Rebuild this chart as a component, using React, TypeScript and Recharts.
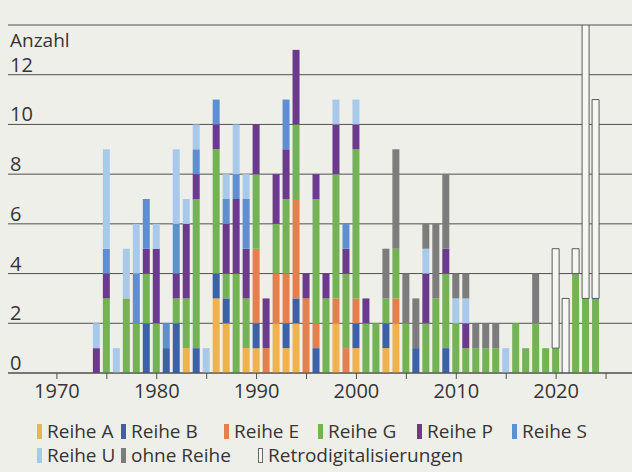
import React from 'react';
import { BarChart, Bar, XAxis, YAxis, CartesianGrid } from 'recharts';

const years = [
  1974, 1975, 1976, 1977, 1978, 1979,
  1980, 1981, 1982, 1983, 1984, 1985, 1986, 1987, 1988, 1989,
  1990, 1991, 1992, 1993, 1994, 1995, 1996, 1997, 1998, 1999,
  2000, 2001, 2002, 2003, 2004, 2005, 2006, 2007, 2008, 2009,
  2010, 2011, 2012, 2013, 2014, 2015, 2016, 2017, 2018, 2019,
  2020, 2021, 2022, 2023, 2024,
];

const reiheA = [
  0, 0, 0, 0, 0, 0,
  0, 0, 0, 1, 0, 0, 3, 2, 0, 1,
  1, 0, 2, 1, 2, 0, 0, 0, 2, 0,
  1, 0, 0, 1, 2, 0, 0, 0, 0, 0,
  0, 0, 0, 0, 0, 0, 0, 0, 0, 0,
  0, 0, 0, 0, 0,
];
const reiheB = [
  0, 0, 0, 0, 0, 2,
  0, 1, 2, 0, 1, 0, 1, 1, 0, 0,
  1, 0, 0, 1, 1, 0, 1, 0, 0, 0,
  1, 0, 0, 1, 0, 0, 1, 0, 0, 1,
  0, 0, 0, 0, 0, 0, 0, 0, 0, 0,
  0, 0, 0, 0, 0,
];
const reiheE = [
  0, 0, 0, 0, 0, 0,
  0, 0, 0, 0, 0, 0, 0, 0, 0, 0,
  3, 1, 2, 2, 4, 3, 1, 0, 1, 1,
  1, 0, 0, 0, 1, 0, 0, 0, 0, 0,
  0, 0, 0, 0, 0, 0, 0, 0, 0, 0,
  0, 0, 0, 0, 0,
];
const reiheG = [
  0, 3, 0, 3, 2, 2,
  2, 0, 1, 2, 6, 0, 5, 1, 4, 2,
  3, 0, 2, 3, 3, 0, 5, 3, 5, 3,
  6, 2, 2, 1, 2, 2, 0, 2, 3, 3,
  2, 1, 1, 1, 1, 0, 2, 1, 2, 1,
  1, 0, 4, 3, 3,
];
const reiheP = [
  1, 1, 0, 0, 0, 1,
  3, 0, 1, 3, 1, 0, 1, 2, 3, 2,
  2, 2, 2, 2, 3, 1, 1, 1, 2, 1,
  1, 1, 0, 0, 0, 0, 0, 2, 0, 1,
  0, 1, 0, 0, 0, 0, 0, 0, 0, 0,
  0, 0, 0, 0, 0,
];
const reiheS = [
  0, 1, 0, 0, 2, 2,
  0, 1, 2, 0, 1, 0, 1, 1, 1, 2,
  0, 0, 0, 2, 0, 0, 0, 0, 0, 1,
  0, 0, 0, 0, 0, 0, 0, 0, 0, 0,
  0, 0, 0, 0, 0, 0, 0, 0, 0, 0,
  0, 0, 0, 0, 0,
];
const reiheU = [
  1, 4, 1, 2, 2, 0,
  1, 0, 3, 1, 1, 1, 0, 1, 2, 1,
  0, 0, 0, 0, 0, 0, 0, 0, 1, 0,
  1, 0, 0, 0, 0, 0, 0, 1, 0, 0,
  1, 1, 0, 0, 0, 1, 0, 0, 0, 0,
  0, 0, 0, 0, 0,
];
const ohneReihe = [
  0, 0, 0, 0, 0, 0,
  0, 0, 0, 0, 0, 0, 0, 0, 0, 0,
  0, 0, 0, 0, 0, 0, 0, 0, 0, 0,
  0, 0, 0, 2, 4, 2, 2, 1, 3, 3,
  1, 1, 1, 1, 1, 0, 0, 0, 2, 0,
  0, 0, 0, 0, 0,
];
const retro = [
  0, 0, 0, 0, 0, 0,
  0, 0, 0, 0, 0, 0, 0, 0, 0, 0,
  0, 0, 0, 0, 0, 0, 0, 0, 0, 0,
  0, 0, 0, 0, 0, 0, 0, 0, 0, 0,
  0, 0, 0, 0, 0, 0, 0, 0, 0, 0,
  4, 3, 1, 11, 8,
];

const xTicks = [1970, 1975, 1980, 1985, 1990, 1995, 2000, 2005, 2010, 2015, 2020, 2025];
const yTicks = [0, 2, 4, 6, 8, 10, 12, 14];

const series = [
  { key: 'A', name: 'Reihe A', color: '#efb24e', values: reiheA },
  { key: 'B', name: 'Reihe B', color: '#3b62a7', values: reiheB },
  { key: 'E', name: 'Reihe E', color: '#e3804d', values: reiheE },
  { key: 'G', name: 'Reihe G', color: '#74b355', values: reiheG },
  { key: 'P', name: 'Reihe P', color: '#6c3a8d', values: reiheP },
  { key: 'S', name: 'Reihe S', color: '#5f8fd0', values: reiheS },
  { key: 'U', name: 'Reihe U', color: '#a9c9ea', values: reiheU },
  { key: 'O', name: 'ohne Reihe', color: '#7c7c7c', values: ohneReihe },
  { key: 'R', name: 'Retrodigitalisierungen', color: '#f6f6f2', values: retro },
];

const data = years.map((year, i) => {
  const row: any = { year };
  series.forEach(s => { row[s.key] = s.values[i]; });
  return row;
});

const font = '"Open Sans", "Noto Sans", sans-serif';
const textColor = '#353535';
const lineColor = '#4f4f4f';

// legend item left edges, per row
const legendLeft = [[37, 121, 224, 318, 417, 512], [37, 121, 258]];

const renderYTick = ({ y, payload }: any) => {
  if (payload.value === 14) {
    return <text x={10} y={y + 22} fontSize={19} fill={textColor} fontFamily={font}>Anzahl</text>;
  }
  return <text x={10} y={y - 3} fontSize={20} fill={textColor} fontFamily={font}>{payload.value}</text>;
};

const LegendRow = ({ items, lefts }: { items: typeof series; lefts: number[] }) => (
  <div style={{ position: 'relative', height: 24 }}>
    {items.map((s, i) => (
      <div key={s.key} style={{ position: 'absolute', left: lefts[i], top: 0, height: 24, display: 'flex', alignItems: 'center', whiteSpace: 'nowrap' }}>
        <span style={{
          display: 'inline-block', width: 5, height: 15, background: s.color, marginRight: 5,
          boxSizing: 'border-box', border: s.key === 'R' ? '1px solid #666' : 'none',
        }} />
        <span>{s.name}</span>
      </div>
    ))}
  </div>
);

export default function App() {
  return (
    <div style={{ position: 'absolute', left: 0, top: 0, width: 632, height: 472, background: '#efefea', overflow: 'hidden' }}>
      <BarChart width={632} height={472} data={data} margin={{ top: 25, right: 0, left: 7, bottom: 69 }}>
        <CartesianGrid vertical={false} stroke={lineColor} strokeWidth={1} />
        <XAxis
          dataKey="year"
          type="number"
          domain={[1965.1, 2027.6]}
          allowDataOverflow
          ticks={xTicks}
          interval={0}
          tickFormatter={(v: number) => (v % 10 === 0 ? String(v) : '')}
          height={30}
          tickSize={6}
          tickMargin={5}
          stroke={lineColor}
          tick={{ fill: textColor, fontSize: 20, fontFamily: font }}
        />
        <YAxis
          width={1}
          domain={[0, 14]}
          ticks={yTicks}
          interval={0}
          allowDataOverflow
          axisLine={false}
          tickLine={false}
          tick={renderYTick}
        />
        {series.map(s => (
          <Bar
            key={s.key}
            dataKey={s.key}
            name={s.name}
            stackId="a"
            fill={s.color}
            stroke={s.key === 'R' ? '#5a5a5a' : undefined}
            strokeWidth={s.key === 'R' ? 1 : 0}
            barSize={7}
            isAnimationActive={false}
          />
        ))}
      </BarChart>
      <div style={{ position: 'absolute', left: 0, top: 419, width: 632, fontFamily: font, fontSize: 19, color: textColor }}>
        <LegendRow items={series.slice(0, 6)} lefts={legendLeft[0]} />
        <LegendRow items={series.slice(6)} lefts={legendLeft[1]} />
      </div>
    </div>
  );
}
